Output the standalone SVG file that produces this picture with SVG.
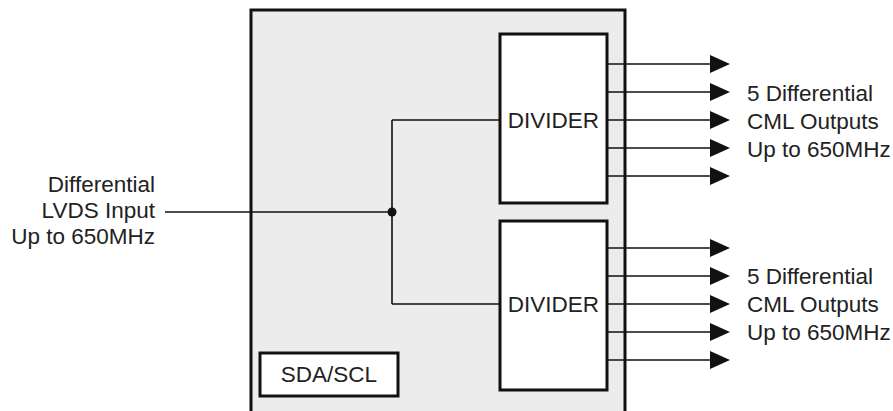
<svg xmlns="http://www.w3.org/2000/svg" width="893" height="411" viewBox="0 0 893 411">
<defs>
<style>
.t{font-family:"Liberation Sans",Arial,sans-serif;font-size:22.5px;fill:#222}
.box{fill:#fff;stroke:#111;stroke-width:3}
.w{stroke:#111;stroke-width:1.6;fill:none}
</style>
<marker id="ah" markerWidth="20" markerHeight="18" refX="0" refY="9" orient="auto" markerUnits="userSpaceOnUse">
<path d="M0,0 L20,9 L0,18 Z" fill="#111"/>
</marker>
</defs>
<g id="chip">
<rect x="251" y="10" width="374" height="410" fill="#ececec"/>
<path d="M251,420 V10 H625 V420" fill="none" stroke="#111" stroke-width="3"/>
</g>
<g id="connectors">
<path class="w" d="M165,212 H392"/>
<path class="w" d="M392,120 V304"/>
<path class="w" d="M392,120 H500"/>
<path class="w" d="M392,304 H500"/>
<circle cx="392" cy="212" r="4.5" fill="#111"/>
<path class="w" d="M607,64 H710" marker-end="url(#ah)"/>
<path class="w" d="M607,92 H710" marker-end="url(#ah)"/>
<path class="w" d="M607,120 H710" marker-end="url(#ah)"/>
<path class="w" d="M607,148 H710" marker-end="url(#ah)"/>
<path class="w" d="M607,176 H710" marker-end="url(#ah)"/>
<path class="w" d="M607,248 H710" marker-end="url(#ah)"/>
<path class="w" d="M607,276 H710" marker-end="url(#ah)"/>
<path class="w" d="M607,304 H710" marker-end="url(#ah)"/>
<path class="w" d="M607,332 H710" marker-end="url(#ah)"/>
<path class="w" d="M607,360 H710" marker-end="url(#ah)"/>
</g>
<g id="divider1">
<rect class="box" x="500" y="34" width="107" height="169"/>
<text class="t" x="553.5" y="128" text-anchor="middle">DIVIDER</text>
</g>
<g id="divider2">
<rect class="box" x="500" y="221" width="107" height="169"/>
<text class="t" x="553.5" y="312" text-anchor="middle">DIVIDER</text>
</g>
<g id="sdascl">
<rect class="box" x="260" y="353" width="138" height="43"/>
<text class="t" x="329" y="382" text-anchor="middle">SDA/SCL</text>
</g>
<g id="input-label">
<text class="t" x="155" y="192" text-anchor="end">Differential</text>
<text class="t" x="155" y="218" text-anchor="end">LVDS Input</text>
<text class="t" x="155" y="244" text-anchor="end">Up to 650MHz</text>
</g>
<g id="output-label1">
<text class="t" x="747" y="101">5 Differential</text>
<text class="t" x="747" y="129">CML Outputs</text>
<text class="t" x="747" y="157">Up to 650MHz</text>
</g>
<g id="output-label2">
<text class="t" x="747" y="284">5 Differential</text>
<text class="t" x="747" y="312">CML Outputs</text>
<text class="t" x="747" y="340">Up to 650MHz</text>
</g>
</svg>
